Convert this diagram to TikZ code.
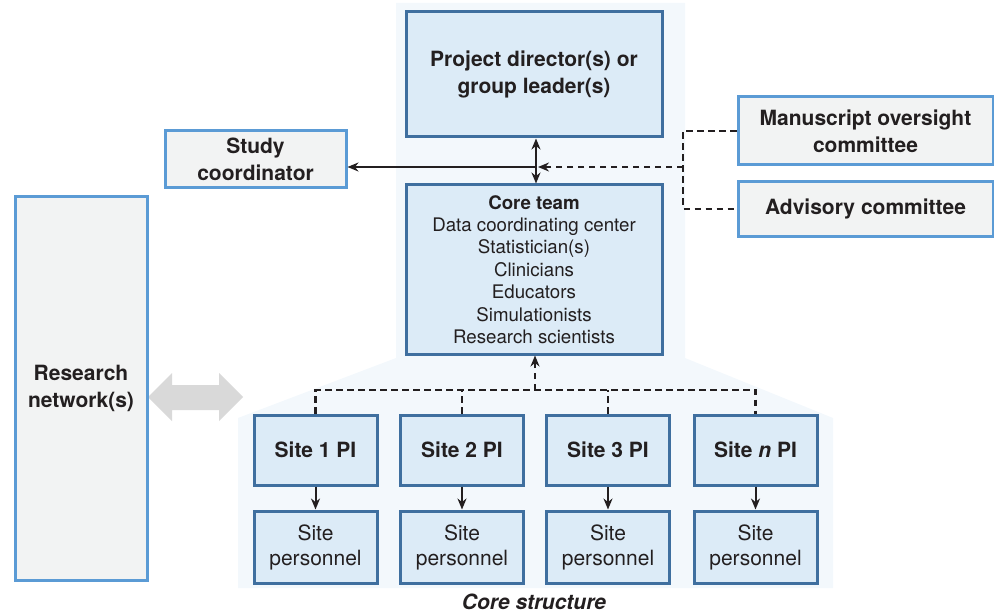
\documentclass[tikz,border=0pt]{standalone}
\usepackage{fontspec}
\setmainfont{TeX Gyre Heros}
\usetikzlibrary{arrows.meta}
\definecolor{inkc}{HTML}{231F20}
\definecolor{bluefill}{HTML}{DCEBF7}
\definecolor{blueedge}{HTML}{3F6F9F}
\definecolor{grayfill}{HTML}{F2F3F3}
\definecolor{grayedge}{HTML}{5B9BD5}
\definecolor{panel}{HTML}{F3F8FC}
\definecolor{bigarrow}{HTML}{D9D9D9}
\tikzset{
  bigtext/.style={font=\fontsize{21}{27}\selectfont\bfseries, text=inkc, align=center},
  plaintext/.style={font=\fontsize{21}{25}\selectfont, text=inkc, align=center},
  bluebox/.style={draw=blueedge, fill=bluefill, line width=3pt, inner sep=0pt},
  graybox/.style={draw=grayedge, fill=grayfill, line width=3pt, inner sep=0pt},
  link/.style={draw=inkc, line width=2.6pt},
  dashlink/.style={draw=inkc, line width=2.6pt, dash pattern=on 6.5pt off 4.5pt},
  tip/.style={-{Stealth[length=11pt,width=9pt]}},
  sitebox/.style={bluebox, minimum width=123pt, minimum height=70pt},
  staffbox/.style={bluebox, plaintext, minimum width=123pt, minimum height=72pt}
}
\begin{document}
\begin{tikzpicture}[x=1pt,y=-1pt]
\useasboundingbox (0,0) rectangle (994,615);

% shaded panel behind the core structure
\fill[panel] (396,3) -- (685,3) -- (685,358) -- (833,418) -- (833,588)
  -- (238,588) -- (238,418) -- (396,358) -- cycle;

% two-way grey arrow to the research network
\fill[bigarrow] (148,397) -- (172,373) -- (172,385) -- (219,385) -- (219,373)
  -- (243,397) -- (219,421) -- (219,410) -- (172,410) -- (172,421) -- cycle;

% leadership boxes
\node[bluebox, bigtext, minimum width=256pt, minimum height=125pt] (dir) at (534,74.5)
  {Project director(s) or\\group leader(s)};
\node[bluebox, minimum width=256pt, minimum height=169pt, align=center, text=inkc,
  font=\fontsize{18.7}{22.4}\selectfont] (core) at (534,269.5)
  {\textbf{Core team}\\Data coordinating center\\Statistician(s)\\Clinicians\\Educators\\Simulationists\\Research scientists};

\node[graybox, bigtext, minimum width=181pt, minimum height=57pt] (study) at (255.5,159.5)
  {Study\\coordinator};
\node[graybox, bigtext, minimum width=255pt, minimum height=68pt] (manu) at (865.5,131)
  {Manuscript oversight\\committee};
\node[graybox, bigtext, minimum width=255pt, minimum height=54pt] (advis) at (865.5,209)
  {Advisory committee};
\node[graybox, bigtext, minimum width=132pt, minimum height=383pt] (net) at (81,388.5)
  {Research\\network(s)};

% sites
\node[sitebox, bigtext] (pi1) at (315.5,450) {Site 1 PI};
\node[sitebox, bigtext] (pi2) at (462,450) {Site 2 PI};
\node[sitebox, bigtext] (pi3) at (608,450) {Site 3 PI};
\node[sitebox, bigtext] (pin) at (755.5,450) {Site \textit{n} PI};

\node[staffbox] (st1) at (315.5,547) {Site\\personnel};
\node[staffbox] (st2) at (462,547) {Site\\personnel};
\node[staffbox] (st3) at (608,547) {Site\\personnel};
\node[staffbox] (stn) at (755.5,547) {Site\\personnel};

\node[font=\fontsize{21}{25}\selectfont\bfseries\itshape, text=inkc] (cap) at (534,602)
  {Core structure};

% director <-> core team, and the branch to the study coordinator
\coordinate (hub) at (536,167);
\draw[link, {Stealth[length=11pt,width=9pt]}-{Stealth[length=11pt,width=9pt]}]
  (dir.south -| hub) -- (core.north -| hub);
\draw[link, tip] (hub) -- (hub -| study.east);

% committees feed into the hub
\coordinate (bar) at (683,167);
\draw[dashlink] (manu.west) -- (manu.west -| bar) -- (advis.west -| bar) -- (advis.west);
\draw[dashlink, tip] (bar) -- ([xshift=2pt]hub);

% site PIs report up to the core team
\coordinate (bus) at (535,390);
\draw[dashlink] (pi1.north) -- (pi1.north |- bus) -- (pin.north |- bus) -- (pin.north);
\draw[dashlink] (pi2.north) -- (pi2.north |- bus);
\draw[dashlink] (pi3.north) -- (pi3.north |- bus);
\draw[dashlink, tip] (bus) -- (core.south -| bus);

% each PI oversees site personnel
\foreach \a/\b in {pi1/st1, pi2/st2, pi3/st3, pin/stn}
  \draw[link, line width=2pt, tip] (\a.south) -- (\b.north);
\end{tikzpicture}
\end{document}
